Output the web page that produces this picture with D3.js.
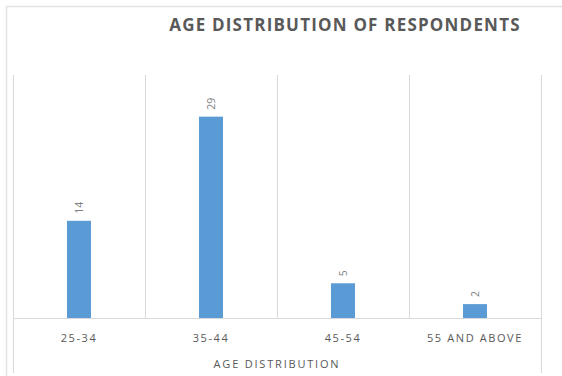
<!DOCTYPE html>
<html>
<head>
<meta charset="utf-8">
<script src="https://cdn.jsdelivr.net/npm/d3@7"></script>
<style>
  html, body { margin: 0; padding: 0; background: #fff; }
  svg { display: block; font-family: "Open Sans", sans-serif; }
</style>
</head>
<body>
<svg id="chart" width="562" height="376"></svg>
<script>
// Respondent counts by age group
const categories = ["25-34", "35-44", "45-54", "55 AND ABOVE"];
const counts = [14, 29, 5, 2];
const yTicks = [0, 35];

const titleText = "AGE DISTRIBUTION OF RESPONDENTS";
const axisTitle = "AGE DISTRIBUTION";

const svg = d3.select("#chart");
const W = 562, H = 376;
const plot = { left: 13, right: 541, top: 75, bottom: 318 };
const textColor = "#595959";
const gridColor = "#d9d9d9";
const barColor = "#5b9bd5";

const x = d3.scaleBand()
  .domain(categories)
  .range([plot.left, plot.right])
  .paddingInner(0)
  .paddingOuter(0);

const y = d3.scaleLinear()
  .domain(d3.extent(yTicks))
  .range([plot.bottom, plot.top]);

const barWidth = 24;

// outer frame (left and top edges)
svg.append("line")
  .attr("x1", 6.5).attr("x2", 6.5).attr("y1", 6).attr("y2", H)
  .attr("stroke", "#e3e3e3").attr("stroke-width", 1.5);
svg.append("line")
  .attr("x1", 6).attr("x2", W).attr("y1", 6.5).attr("y2", 6.5)
  .attr("stroke", "#e3e3e3").attr("stroke-width", 1.5);

// vertical category separators
const boundaries = categories.map(c => x(c)).concat([x.range()[1]]);
svg.append("g")
  .selectAll("line")
  .data(boundaries)
  .join("line")
  .attr("x1", d => Math.round(d) + 0.5)
  .attr("x2", d => Math.round(d) + 0.5)
  .attr("y1", plot.top)
  .attr("y2", (d, i) => (i === 0 || i === boundaries.length - 1) ? 373 : plot.bottom)
  .attr("stroke", gridColor)
  .attr("stroke-width", 1);

// baseline
svg.append("line")
  .attr("x1", plot.left).attr("x2", plot.right)
  .attr("y1", y(0) + 0.5).attr("y2", y(0) + 0.5)
  .attr("stroke", gridColor).attr("stroke-width", 1);

// bars
svg.append("g")
  .selectAll("rect")
  .data(counts)
  .join("rect")
  .attr("x", (d, i) => x(categories[i]) + x.bandwidth() / 2 - barWidth / 2)
  .attr("y", d => y(d))
  .attr("width", barWidth)
  .attr("height", d => y(0) - y(d))
  .attr("fill", barColor);

// rotated value labels
svg.append("g")
  .selectAll("text")
  .data(counts)
  .join("text")
  .attr("transform", (d, i) => {
    const cx = x(categories[i]) + x.bandwidth() / 2;
    return `translate(${cx},${y(d) - 7}) rotate(-90)`;
  })
  .attr("dy", "0.35em")
  .attr("text-anchor", "start")
  .attr("font-size", 10.5)
  .attr("fill", "#7f7f7f")
  .text(d => d);

// category labels
svg.append("g")
  .selectAll("text")
  .data(categories)
  .join("text")
  .attr("x", d => x(d) + x.bandwidth() / 2)
  .attr("y", 342)
  .attr("text-anchor", "middle")
  .attr("font-size", 11)
  .attr("letter-spacing", "1.6px")
  .attr("fill", textColor)
  .text(d => d);

// axis title
svg.append("text")
  .attr("x", (plot.left + plot.right) / 2)
  .attr("y", 368)
  .attr("text-anchor", "middle")
  .attr("font-size", 11)
  .attr("letter-spacing", "1.8px")
  .attr("fill", textColor)
  .text(axisTitle);

// chart title
svg.append("text")
  .attr("x", 345)
  .attr("y", 31)
  .attr("text-anchor", "middle")
  .attr("font-size", 17)
  .attr("font-weight", "bold")
  .attr("letter-spacing", "1.2px")
  .attr("fill", textColor)
  .text(titleText);
</script>
</body>
</html>
